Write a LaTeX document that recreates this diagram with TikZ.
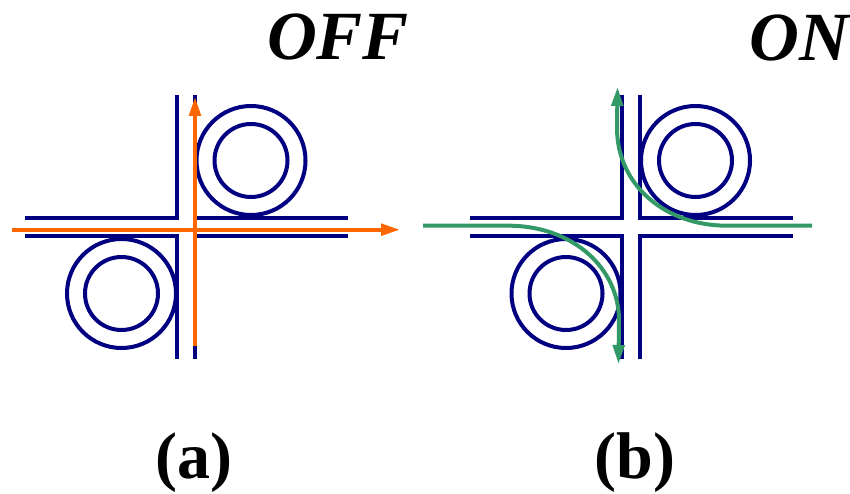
\documentclass[tikz,border=0pt]{standalone}
\usepackage{fontspec}
\setmainfont{Liberation Serif}
\usetikzlibrary{arrows.meta}
\definecolor{wgblue}{RGB}{0,0,128}
\definecolor{offcol}{RGB}{255,102,0}
\definecolor{oncol}{RGB}{51,153,102}
\tikzset{
	wg/.style={wgblue, line width=4pt},
	offray/.style={offcol, line width=4pt, -{Triangle[length=19pt,width=11.5pt]}},
	onray/.style={oncol, line width=4pt, -{Triangle[length=19pt,width=11.5pt]}},
	toplabel/.style={font=\fontsize{69pt}{69pt}\selectfont\bfseries\itshape, anchor=base},
	sublabel/.style={font=\fontsize{66pt}{66pt}\selectfont\bfseries, anchor=base}
}
\begin{document}
\begin{tikzpicture}[x=1pt,y=-1pt]
	\useasboundingbox (0,0) rectangle (850,494);
	% the two crosses differ by a shift only
	\foreach \dx/\nm in {0/a,444.5/b} {
		\begin{scope}[xshift=\dx pt]
			\draw[wg] (177,95) -- (177,218) -- (25,218);
			\draw[wg] (195,95) -- (195,218) -- (348,218);
			\draw[wg] (177,359) -- (177,236) -- (25,236);
			\draw[wg] (195,359) -- (195,236) -- (348,236);
			\draw[wg] (251,160.5) circle (54.5);
			\draw[wg] (251,160.5) circle (36.5);
			\draw[wg] (121.5,293.5) circle (54.5);
			\draw[wg] (121.5,293.5) circle (36.5);
		\end{scope}
	}
	% rays
	\coordinate (offwest) at (12,229.7);
	\coordinate (offeast) at (400,229.7);
	\coordinate (offsouth) at (195,346);
	\coordinate (offnorth) at (195,97);
	\draw[offray] (offwest) -- (offeast);
	\draw[offray] (offsouth) -- (offnorth);
	\coordinate (onwest) at (423,225.7);
	\coordinate (onsouth) at (618.5,364);
	\coordinate (oneast) at (812,225.7);
	\coordinate (onnorth) at (617.5,87);
	\draw[onray] (onwest) -- (508,225.7) .. controls (575,225.7) and (619,270) .. (619,320) -- (onsouth);
	\draw[onray] (oneast) -- (727,225.7) .. controls (665,225.7) and (617,185) .. (617,128) -- (onnorth);
	% labels
	\node[toplabel] (offlabel) at (338,60) {OFF};
	\node[toplabel] (onlabel) at (799,61) {ON};
	\node[sublabel] (panela) at (193.5,478.5) {(a)};
	\node[sublabel] (panelb) at (635,478.5) {(b)};
\end{tikzpicture}
\end{document}
